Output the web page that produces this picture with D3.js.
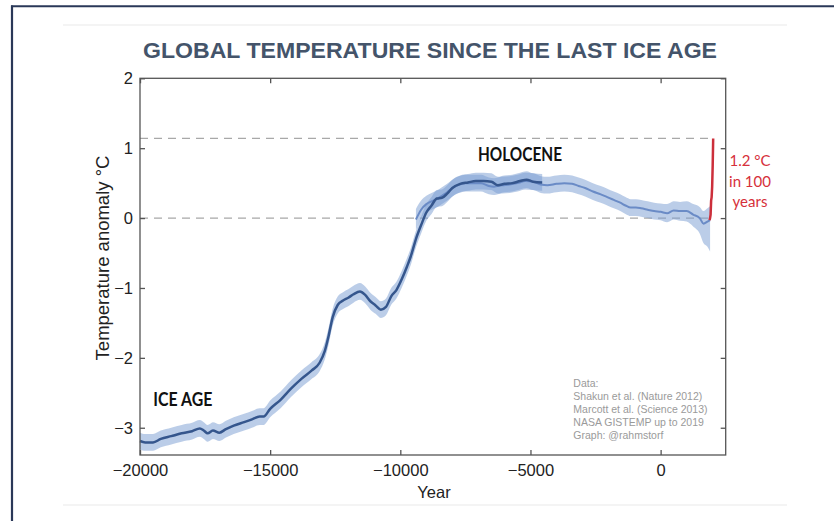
<!DOCTYPE html>
<html><head><meta charset="utf-8">
<script src="https://cdn.jsdelivr.net/npm/d3@7"></script>
<style>
html,body{margin:0;padding:0;background:#fff;}
svg{display:block;}
</style></head>
<body>
<svg id="chart" width="834" height="521"></svg>
<script>
// ---- data ----
const title = "GLOBAL TEMPERATURE SINCE THE LAST ICE AGE";
const xTicks = [-20000, -15000, -10000, -5000, 0];
const yTicks = [-3, -2, -1, 0, 1, 2];

// Shakun et al. 2012 (dark line)
const shakunYears = [-20000,-19800,-19500,-19200,-18800,-18400,-18000,-17700,-17550,-17400,-17200,-16950,-16700,-16400,-16000,-15700,-15400,-15250,-15000,-14600,-14200,-13800,-13400,-13100,-12900,-12750,-12600,-12400,-12200,-12000,-11800,-11550,-11350,-11150,-10950,-10750,-10550,-10350,-10150,-9950,-9750,-9600,-9400,-9200,-9000,-8800,-8600,-8400,-8200,-8000,-7700,-7400,-7100,-6800,-6500,-6250,-6000,-5700,-5400,-5150,-4900,-4550];
const shakunTemp = [-3.19,-3.21,-3.21,-3.16,-3.12,-3.08,-3.05,-3.01,-3.04,-3.08,-3.04,-3.07,-3.02,-2.97,-2.92,-2.88,-2.84,-2.84,-2.73,-2.60,-2.44,-2.30,-2.18,-2.07,-1.90,-1.68,-1.42,-1.24,-1.18,-1.14,-1.09,-1.05,-1.10,-1.19,-1.25,-1.31,-1.27,-1.12,-1.03,-0.88,-0.70,-0.55,-0.30,-0.10,0.08,0.18,0.28,0.29,0.35,0.43,0.49,0.51,0.53,0.53,0.52,0.47,0.49,0.50,0.53,0.55,0.52,0.51];
const shakunErr = 0.12;

// Marcott et al. 2013 (light line)
const marcottYears = [-9400,-9200,-9000,-8800,-8600,-8400,-8200,-8000,-7800,-7500,-7200,-6900,-6600,-6400,-6100,-5800,-5500,-5200,-4900,-4600,-4350,-4000,-3700,-3400,-3150,-2900,-2600,-2300,-2050,-1800,-1550,-1350,-1150,-950,-750,-500,-250,0,250,500,750,1000,1250,1500,1650,1800,1900];
const marcottTemp = [-0.02,0.12,0.20,0.24,0.27,0.32,0.37,0.43,0.47,0.50,0.50,0.50,0.46,0.45,0.47,0.48,0.50,0.53,0.52,0.48,0.47,0.49,0.50,0.49,0.46,0.43,0.38,0.34,0.30,0.26,0.22,0.18,0.15,0.15,0.14,0.12,0.10,0.09,0.07,0.11,0.10,0.10,0.05,0.00,-0.08,-0.05,-0.03];
const marcottErrUp = [0.15,0.13,0.12,0.12,0.12,0.12,0.12,0.12,0.12,0.12,0.12,0.12,0.12,0.12,0.12,0.12,0.12,0.12,0.12,0.12,0.12,0.12,0.12,0.12,0.12,0.12,0.12,0.12,0.12,0.12,0.12,0.12,0.12,0.12,0.12,0.12,0.12,0.12,0.13,0.13,0.13,0.14,0.15,0.16,0.18,0.19,0.20];
const marcottErrDown = [0.15,0.13,0.12,0.12,0.12,0.12,0.12,0.12,0.12,0.12,0.12,0.12,0.12,0.12,0.12,0.12,0.12,0.12,0.12,0.12,0.12,0.12,0.12,0.12,0.12,0.12,0.12,0.12,0.12,0.12,0.12,0.12,0.12,0.12,0.12,0.12,0.12,0.12,0.13,0.13,0.14,0.15,0.17,0.22,0.28,0.36,0.45];

// NASA GISTEMP (red)
const gissYears = [1880,1900,1920,1940,1960,1980,2000,2010,2019];
const gissTemp = [-0.03,0.00,0.05,0.25,0.30,0.45,0.75,0.95,1.14];

const refLevels = [0, 1.14];
const sourceLines = ["Data:","Shakun et al. (Nature 2012)","Marcott et al. (Science 2013)","NASA GISTEMP up to 2019","Graph: @rahmstorf"];
const redLabel = ["1.2 °C","in 100","years"];

// ---- layout ----
const svg = d3.select("#chart");
const L = 140, R = 725.7, T = 78.3, B = 455;
const x = d3.scaleLinear().domain([-20000, 2500]).range([L, R]);
const y = d3.scaleLinear().domain([-3.39, 2]).range([B, T]);
const fmt = d => d < 0 ? "\u2212" + Math.abs(d) : String(d);

// slide decoration
svg.append("line").attr("x1",12).attr("x2",12).attr("y1",5.5).attr("y2",521).attr("stroke","#2a3858").attr("stroke-width",2.2);
svg.append("line").attr("x1",11).attr("x2",834).attr("y1",6.3).attr("y2",6.3).attr("stroke","#2a3858").attr("stroke-width",2);
svg.append("line").attr("x1",63).attr("x2",787).attr("y1",25).attr("y2",25).attr("stroke","#f0f0f0").attr("stroke-width",1.5);
svg.append("line").attr("x1",63).attr("x2",787).attr("y1",505).attr("y2",505).attr("stroke","#f0f0f0").attr("stroke-width",1.5);

// title
svg.append("text").attr("x",430).attr("y",58).attr("text-anchor","middle")
  .attr("font-family","'Liberation Sans Narrow','Arial Narrow',Arial,sans-serif").attr("font-weight","bold")
  .attr("font-size",22).attr("fill","#44546a").attr("textLength",574).attr("lengthAdjust","spacingAndGlyphs")
  .text(title);

// dashed reference lines
svg.selectAll(".ref").data(refLevels).enter().append("line")
  .attr("x1",L).attr("x2",x(2019)).attr("y1",d=>y(d)).attr("y2",d=>y(d))
  .attr("stroke","#a8a8a8").attr("stroke-width",1.3).attr("stroke-dasharray","8,6");

// bands
const shakun = shakunYears.map((yr,i)=>({yr, v:shakunTemp[i], lo:shakunTemp[i]-shakunErr, hi:shakunTemp[i]+shakunErr}));
const marcott = marcottYears.map((yr,i)=>({yr, v:marcottTemp[i], lo:marcottTemp[i]-marcottErrDown[i], hi:marcottTemp[i]+marcottErrUp[i]}));
const area = d3.area().x(d=>x(d.yr)).y0(d=>y(d.lo)).y1(d=>y(d.hi)).curve(d3.curveMonotoneX);
const line = d3.line().x(d=>x(d.yr)).y(d=>y(d.v)).curve(d3.curveMonotoneX);

svg.append("path").datum(shakun).attr("d",area).attr("fill","rgb(120,155,210)").attr("fill-opacity",0.5);
svg.append("path").datum(marcott).attr("d",area).attr("fill","rgb(120,155,210)").attr("fill-opacity",0.5);
svg.append("path").datum(marcott).attr("d",line).attr("fill","none").attr("stroke","#6a8bc6").attr("stroke-width",2);
svg.append("path").datum(shakun).attr("d",line).attr("fill","none").attr("stroke","#35568d").attr("stroke-width",2.5);

// GISTEMP red
const giss = gissYears.map((yr,i)=>({yr, v:gissTemp[i]}));
svg.append("path").datum(giss).attr("d",d3.line().x(d=>x(d.yr)).y(d=>y(d.v))).attr("fill","none")
  .attr("stroke","#cc2f3b").attr("stroke-width",2.5);

// axes box
const axCol = "#555";
svg.append("rect").attr("x",L).attr("y",T).attr("width",R-L).attr("height",B-T)
  .attr("fill","none").attr("stroke",axCol).attr("stroke-width",1.3);
const tl = 5;
const gB = svg.append("g").attr("transform",`translate(0,${B})`).call(d3.axisBottom(x).tickValues(xTicks).tickSizeInner(-tl).tickSizeOuter(0).tickPadding(9).tickFormat(fmt));
const gT = svg.append("g").attr("transform",`translate(0,${T})`).call(d3.axisTop(x).tickValues(xTicks).tickSizeInner(-tl).tickSizeOuter(0).tickFormat(""));
const gL = svg.append("g").attr("transform",`translate(${L},0)`).call(d3.axisLeft(y).tickValues(yTicks).tickSizeInner(-tl).tickSizeOuter(0).tickPadding(7).tickFormat(fmt));
const gR = svg.append("g").attr("transform",`translate(${R},0)`).call(d3.axisRight(y).tickValues(yTicks).tickSizeInner(-tl).tickSizeOuter(0).tickFormat(""));
[gB,gT,gL,gR].forEach(g=>{
  g.select(".domain").remove();
  g.selectAll(".tick line").attr("stroke",axCol).attr("stroke-width",1.3);
  g.selectAll("text").attr("font-family","'Liberation Sans',Arial,sans-serif").attr("font-size",16.5).attr("fill","#222");
});

// axis titles
svg.append("text").attr("x",434).attr("y",498).attr("text-anchor","middle")
  .attr("font-family","'Liberation Sans',Arial,sans-serif").attr("font-size",16.5).attr("fill","#222").text("Year");
svg.append("text").attr("transform","translate(109,258) rotate(-90)").attr("text-anchor","middle")
  .attr("font-family","'Liberation Sans',Arial,sans-serif").attr("font-size",18.5).attr("fill","#222").text("Temperature anomaly °C");

// annotations
svg.append("text").attr("x",153.3).attr("y",405.7).attr("font-family","Lato,'Open Sans',sans-serif").attr("font-weight","bold")
  .attr("font-size",18).attr("fill","#111").attr("textLength",59).attr("lengthAdjust","spacingAndGlyphs").text("ICE AGE");
svg.append("text").attr("x",478).attr("y",161).attr("font-family","Lato,'Open Sans',sans-serif").attr("font-weight","bold")
  .attr("font-size",18).attr("fill","#111").attr("textLength",84).attr("lengthAdjust","spacingAndGlyphs").text("HOLOCENE");

svg.selectAll(".red").data(redLabel).enter().append("text")
  .attr("x",750).attr("y",(d,i)=>166+i*20.5).attr("text-anchor","middle")
  .attr("font-family","Lato,'Open Sans',sans-serif").attr("font-size",15).attr("fill","#d6303a").text(d=>d);

svg.selectAll(".src").data(sourceLines).enter().append("text")
  .attr("x",573.3).attr("y",(d,i)=>386.5+i*13.2)
  .attr("font-family","'Liberation Sans',Arial,sans-serif").attr("font-size",10.5).attr("fill","#9a9a9a").text(d=>d);
</script>
</body></html>
